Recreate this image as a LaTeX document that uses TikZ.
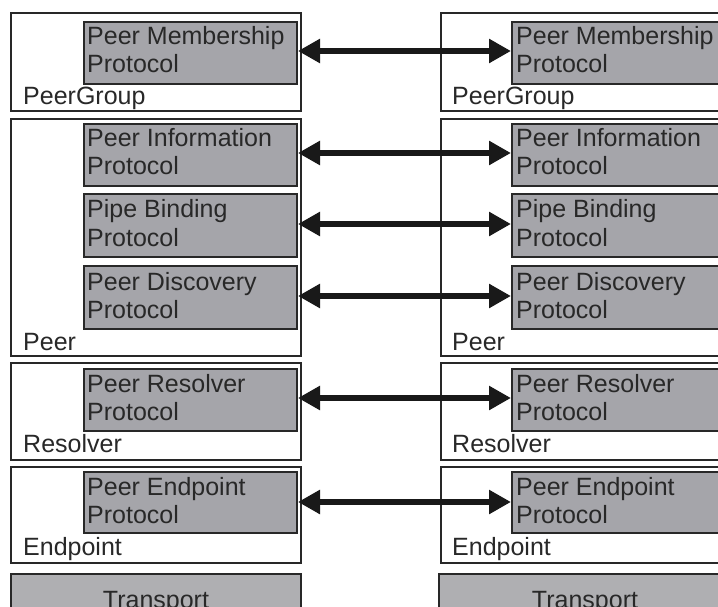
\documentclass[tikz,border=0pt]{standalone}
\usepackage{fontspec}
\setmainfont{Liberation Sans}
\usetikzlibrary{arrows.meta}
\definecolor{boxfill}{RGB}{165,165,170}
\definecolor{tfill}{RGB}{175,175,178}
\definecolor{ink}{RGB}{40,40,40}
\tikzset{
  outerbox/.style={draw=ink, line width=1.5pt, fill=white},
  protobox/.style={draw=ink, line width=2pt, fill=boxfill},
  transbox/.style={draw=ink, line width=1.5pt, fill=tfill},
  lbl/.style={anchor=base west, inner sep=0pt, text=ink, font=\fontsize{25}{28}\selectfont},
  clbl/.style={anchor=base, inner sep=0pt, text=ink, font=\fontsize{25}{28}\selectfont},
  biarrow/.style={line width=6pt, draw=black!90, {Triangle[length=22pt,width=23pt]}-{Triangle[length=22pt,width=23pt]}, shorten <=0pt, shorten >=0pt}
}
\begin{document}
\begin{tikzpicture}[x=1pt,y=-1pt]
\useasboundingbox (0,0) rectangle (718,607);
\clip (0,0) rectangle (718,607);
\fill[white] (0,0) rectangle (718,607);
% ---------- outer boxes, left
\draw[outerbox] (11,13) rectangle (301,111);
\draw[outerbox] (11,119) rectangle (301,356);
\draw[outerbox] (11,363) rectangle (301,460);
\draw[outerbox] (11,467) rectangle (301,563);
\draw[transbox] (11,574) rectangle (301,630);
% ---------- outer boxes, right
\draw[outerbox] (441,13) rectangle (731,111);
\draw[outerbox] (441,119) rectangle (731,356);
\draw[outerbox] (441,363) rectangle (731,460);
\draw[outerbox] (441,467) rectangle (731,563);
\draw[transbox] (439,574) rectangle (729,630);
% ---------- protocol boxes, left
\node[protobox, anchor=north west, minimum width=213pt, minimum height=62pt, inner sep=0pt] (pmL) at (83,21) {};
\node[protobox, anchor=north west, minimum width=213pt, minimum height=62pt, inner sep=0pt] (piL) at (83,123) {};
\node[protobox, anchor=north west, minimum width=213pt, minimum height=63pt, inner sep=0pt] (pbL) at (83,193) {};
\node[protobox, anchor=north west, minimum width=213pt, minimum height=63pt, inner sep=0pt] (pdL) at (83,265) {};
\node[protobox, anchor=north west, minimum width=213pt, minimum height=62pt, inner sep=0pt] (prL) at (83,368) {};
\node[protobox, anchor=north west, minimum width=213pt, minimum height=61pt, inner sep=0pt] (peL) at (83,471) {};
% ---------- protocol boxes, right
\node[protobox, anchor=north west, minimum width=213pt, minimum height=62pt, inner sep=0pt] (pmR) at (511,21) {};
\node[protobox, anchor=north west, minimum width=213pt, minimum height=62pt, inner sep=0pt] (piR) at (511,123) {};
\node[protobox, anchor=north west, minimum width=213pt, minimum height=63pt, inner sep=0pt] (pbR) at (511,193) {};
\node[protobox, anchor=north west, minimum width=213pt, minimum height=63pt, inner sep=0pt] (pdR) at (511,265) {};
\node[protobox, anchor=north west, minimum width=213pt, minimum height=62pt, inner sep=0pt] (prR) at (511,368) {};
\node[protobox, anchor=north west, minimum width=213pt, minimum height=61pt, inner sep=0pt] (peR) at (511,471) {};
% ---------- protocol texts, left
\node[lbl] (tpm1L) at (87,45) {Peer Membership};
\node[lbl] (tpm2L) at (87,73) {Protocol};
\node[lbl] (tpi1L) at (87,147) {Peer Information};
\node[lbl] (tpi2L) at (87,175) {Protocol};
\node[lbl] (tpb1L) at (87,218) {Pipe Binding};
\node[lbl] (tpb2L) at (87,246) {Protocol};
\node[lbl] (tpd1L) at (87,290) {Peer Discovery};
\node[lbl] (tpd2L) at (87,318) {Protocol};
\node[lbl] (tpr1L) at (87,392) {Peer Resolver};
\node[lbl] (tpr2L) at (87,420) {Protocol};
\node[lbl] (tpe1L) at (87,495) {Peer Endpoint};
\node[lbl] (tpe2L) at (87,523) {Protocol};
% ---------- protocol texts, right
\node[lbl] (tpm1R) at (516,45) {Peer Membership};
\node[lbl] (tpm2R) at (516,73) {Protocol};
\node[lbl] (tpi1R) at (516,147) {Peer Information};
\node[lbl] (tpi2R) at (516,175) {Protocol};
\node[lbl] (tpb1R) at (516,218) {Pipe Binding};
\node[lbl] (tpb2R) at (516,246) {Protocol};
\node[lbl] (tpd1R) at (516,290) {Peer Discovery};
\node[lbl] (tpd2R) at (516,318) {Protocol};
\node[lbl] (tpr1R) at (516,392) {Peer Resolver};
\node[lbl] (tpr2R) at (516,420) {Protocol};
\node[lbl] (tpe1R) at (516,495) {Peer Endpoint};
\node[lbl] (tpe2R) at (516,523) {Protocol};
% ---------- layer labels
\node[lbl] (gL) at (23,105) {PeerGroup};
\node[lbl] (pL) at (23,350) {Peer};
\node[lbl] (rL) at (23,452) {Resolver};
\node[lbl] (eL) at (23,555) {Endpoint};
\node[lbl] (gR) at (452,105) {PeerGroup};
\node[lbl] (pR) at (452,350) {Peer};
\node[lbl] (rR) at (452,452) {Resolver};
\node[lbl] (eR) at (452,555) {Endpoint};
\node[clbl] (tL) at (156,608) {Transport};
\node[clbl] (tR) at (585,608) {Transport};
% ---------- arrows
\draw[biarrow] ([yshift=2pt]pmL.east) -- ([yshift=2pt]pmR.west);
\draw[biarrow] ([yshift=2pt]piL.east) -- ([yshift=2pt]piR.west);
\draw[biarrow] ([yshift=1.5pt]pbL.east) -- ([yshift=1.5pt]pbR.west);
\draw[biarrow] ([yshift=1.5pt]pdL.east) -- ([yshift=1.5pt]pdR.west);
\draw[biarrow] ([yshift=2pt]prL.east) -- ([yshift=2pt]prR.west);
\draw[biarrow] ([yshift=0.5pt]peL.east) -- ([yshift=0.5pt]peR.west);
\end{tikzpicture}
\end{document}
